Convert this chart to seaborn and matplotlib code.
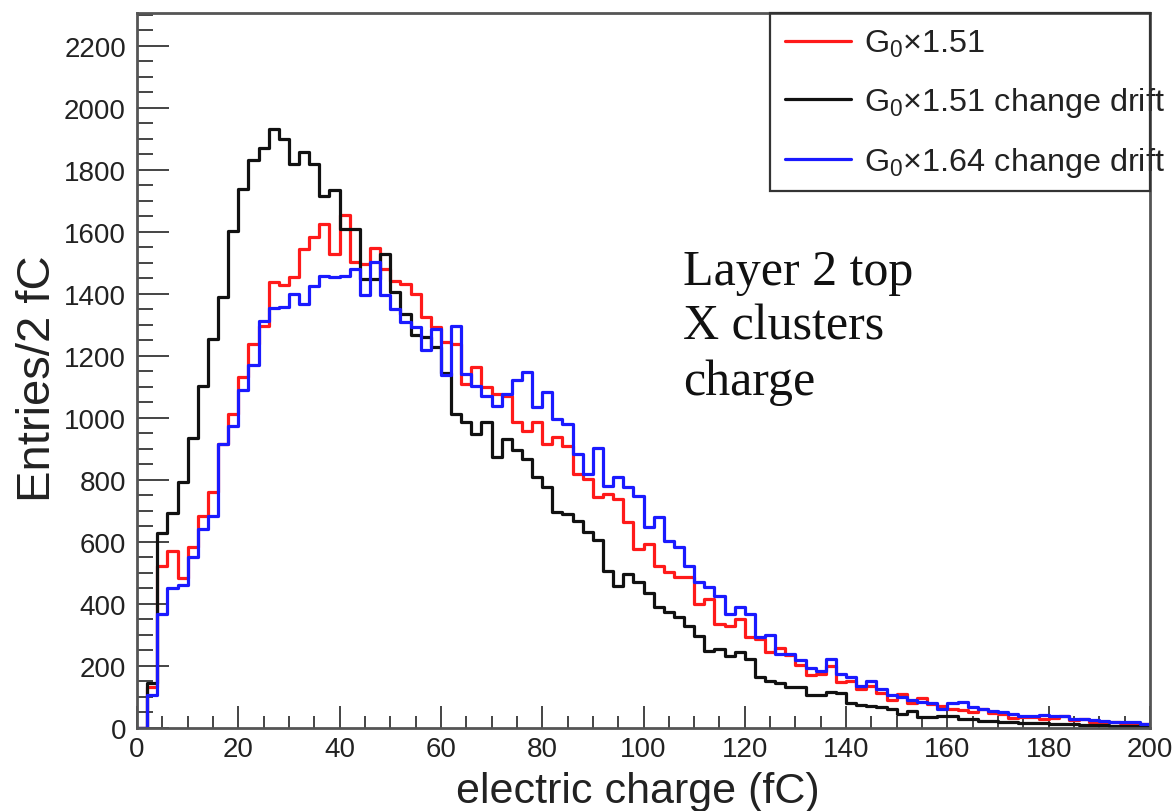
import numpy as np
import pandas as pd
import matplotlib
matplotlib.use("Agg")
import matplotlib.pyplot as plt
import seaborn as sns
from matplotlib.lines import Line2D
from matplotlib.patches import Rectangle
from matplotlib.ticker import MultipleLocator

# Charge histograms, 2 fC bins from 0 to 200 fC
bin_edges = np.arange(0, 202, 2)
bin_centers = bin_edges[:-1] + 1

labels = [r"G$_0$×1.51", r"G$_0$×1.51 change drift", r"G$_0$×1.64 change drift"]
colors = ["#ff1a1a", "#111111", "#1a1aff"]

entries_g151 = [
    0, 131, 524, 570, 484, 583, 685, 762, 916, 1014,
    1132, 1237, 1298, 1437, 1429, 1455, 1545, 1583, 1626, 1529,
    1653, 1502, 1497, 1548, 1481, 1443, 1433, 1400, 1325, 1293,
    1245, 1239, 1110, 1164, 1099, 1078, 1072, 986, 959, 986,
    916, 938, 911, 820, 804, 744, 755, 739, 663, 577,
    593, 524, 502, 486, 486, 400, 416, 335, 330, 352,
    292, 288, 245, 257, 234, 204, 170, 175, 200, 148,
    153, 126, 137, 113, 89, 110, 81, 96, 78, 72,
    61, 59, 53, 61, 48, 45, 31, 34, 34, 29,
    31, 40, 27, 29, 20, 20, 18, 16, 16, 13,
]

entries_g151_drift = [
    0, 146, 628, 694, 792, 936, 1102, 1254, 1391, 1603,
    1738, 1833, 1869, 1931, 1901, 1820, 1857, 1820, 1715, 1734,
    1610, 1610, 1449, 1449, 1529, 1406, 1336, 1266, 1261, 1228,
    1145, 1013, 986, 949, 986, 873, 932, 895, 868, 809,
    777, 696, 691, 669, 632, 605, 507, 459, 497, 470,
    437, 389, 373, 357, 330, 298, 249, 255, 233, 244,
    222, 163, 153, 146, 132, 132, 105, 105, 116, 113,
    81, 75, 72, 67, 62, 46, 56, 35, 35, 38,
    38, 29, 29, 24, 24, 20, 18, 16, 16, 16,
    13, 13, 12, 10, 10, 10, 8, 8, 8, 6,
]

entries_g164_drift = [
    0, 105, 367, 452, 461, 550, 641, 685, 916, 975,
    1089, 1172, 1312, 1355, 1357, 1401, 1368, 1427, 1459, 1456,
    1459, 1481, 1395, 1502, 1395, 1352, 1309, 1293, 1218, 1287,
    1137, 1298, 1142, 1104, 1072, 1040, 1078, 1121, 1147, 1035,
    1083, 997, 981, 884, 820, 902, 782, 808, 776, 747,
    647, 679, 604, 583, 524, 470, 454, 427, 368, 389,
    368, 292, 300, 239, 239, 218, 193, 185, 223, 175,
    164, 137, 153, 126, 105, 99, 89, 85, 80, 62,
    81, 85, 67, 61, 56, 50, 45, 38, 38, 42,
    38, 38, 29, 29, 26, 24, 20, 18, 18, 13,
]

series = [entries_g151, entries_g151_drift, entries_g164_drift]

sns.set_style("white")
plt.rcParams["font.family"] = ["Liberation Sans", "DejaVu Sans"]
plt.rcParams["mathtext.fontset"] = "custom"
plt.rcParams["mathtext.rm"] = "Liberation Sans"
plt.rcParams["mathtext.it"] = "Liberation Sans:italic"
plt.rcParams["mathtext.default"] = "regular"

W, H = 1172, 812
fig = plt.figure(figsize=(W / 100, H / 100), dpi=100)
x0, x1, y0, y1 = 137, 1150, 14, 729
ax = fig.add_axes([x0 / W, 1 - y1 / H, (x1 - x0) / W, (y1 - y0) / H])

for vals, lab, col in zip(series, labels, colors):
    df = pd.DataFrame({"charge": bin_centers, "entries": vals})
    sns.histplot(data=df, x="charge", weights="entries", binwidth=2,
                 binrange=(0, 200), element="step", fill=False, color=col,
                 linewidth=2.3, ax=ax)

ax.set_xlim(0, 200)
ax.set_ylim(0, 2306)
ax.set_xticks(np.arange(0, 201, 20))
ax.set_yticks(np.arange(0, 2201, 200))
ax.xaxis.set_minor_locator(MultipleLocator(5))
ax.yaxis.set_minor_locator(MultipleLocator(50))
ax.tick_params(which="both", direction="in", bottom=True, left=True,
               top=False, right=False,
               color="#444444", labelcolor="#222222", labelsize=20)
ax.tick_params(axis="y", which="major", length=23, width=1.4, pad=8)
ax.tick_params(axis="y", which="minor", length=11.5, width=1.4)
ax.tick_params(axis="x", which="major", length=16, width=1.4, pad=6)
ax.tick_params(axis="x", which="minor", length=8.5, width=1.4)
for sp in ax.spines.values():
    sp.set_color("#555555")
    sp.set_linewidth(2)

ax.set_xlabel("electric charge (fC)", fontsize=31, color="#222222")
ax.xaxis.label.set_va("baseline")
ax.xaxis.set_label_coords(0.494, (y1 - 803) / (y1 - y0))
ax.set_ylabel("Entries/2 fC", fontsize=34, color="#222222")
ax.yaxis.set_label_coords(-0.076, 0.49)

# Legend box with line samples
fig.add_artist(Rectangle((770 / W, 1 - 192 / H), 380 / W, 178 / H,
                         transform=fig.transFigure, fill=False,
                         edgecolor="#333333", linewidth=1.6))
handles = [Line2D([], [], color=c, linewidth=2.3) for c in colors]
ax.legend(handles, labels, frameon=False, loc="upper left",
          bbox_to_anchor=(785 / W, 1 - 29 / H), bbox_transform=fig.transFigure,
          fontsize=23.3, handlelength=2.05, handletextpad=0.4,
          labelspacing=0.8, borderpad=0, borderaxespad=0, labelcolor="#222222")

# Annotation text
for txt, yb in zip(["Layer 2 top", "X clusters", "charge"], [285, 340, 395]):
    fig.text(683 / W, 1 - yb / H, txt, family="Liberation Serif", fontsize=36,
             va="baseline", ha="left", color="#111111")

fig.savefig("out.png", dpi=100)
